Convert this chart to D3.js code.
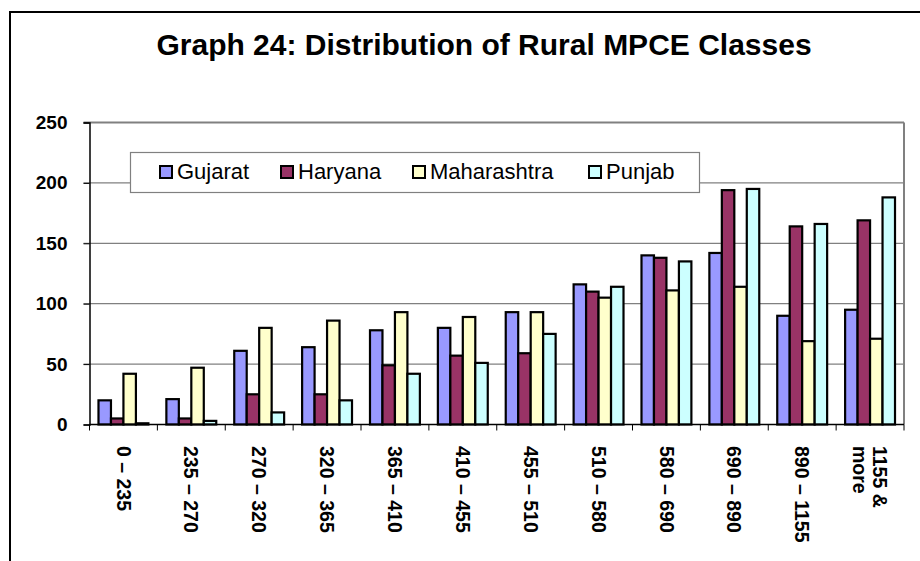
<!DOCTYPE html>
<html>
<head>
<meta charset="utf-8">
<script src="https://cdn.jsdelivr.net/npm/d3@7"></script>
<style>
  body { margin: 0; background: #fff; }
  svg { display: block; font-family: Arial, "Liberation Sans", sans-serif; }
</style>
</head>
<body>
<div id="chart"></div>
<script>
// du lieu doc tu bieu do
var classes = ["0 \u2013 235", "235 \u2013 270", "270 \u2013 320", "320 \u2013 365", "365 \u2013 410", "410 \u2013 455",
  "455 \u2013 510", "510 \u2013 580", "580 \u2013 690", "690 \u2013 890", "890 \u2013 1155", "1155 & more"];
var states = ["Gujarat", "Haryana", "Maharashtra", "Punjab"];
var gujarat = [20, 21, 61, 64, 78, 80, 93, 116, 140, 142, 90, 95];
var haryana = [5, 5, 25, 25, 49, 57, 59, 110, 138, 194, 164, 169];
var maharashtra = [42, 47, 80, 86, 93, 89, 93, 105, 111, 114, 69, 71];
var punjab = [1, 3, 10, 20, 42, 51, 75, 114, 135, 195, 166, 188];
var yTicks = [0, 50, 100, 150, 200, 250];

var seriesValues = [gujarat, haryana, maharashtra, punjab];
var colors = ["#9999FF", "#993366", "#FFFFCC", "#CCFFFF"];

function drawChart(width, height) {
    var left = 89.5, right = 904, top = 122.5, bottom = 424.5;

    var svg = d3.select("#chart")
        .append("svg")
        .attr("width", width)
        .attr("height", height);

    // khung ngoai
    svg.append("rect")
        .attr("x", 10)
        .attr("y", 12)
        .attr("width", width)
        .attr("height", height)
        .attr("fill", "none")
        .attr("stroke", "#000")
        .attr("stroke-width", 2);

    // tieu de
    svg.append("text")
        .attr("x", 484)
        .attr("y", 55)
        .attr("text-anchor", "middle")
        .style("font-size", "30px")
        .style("font-weight", "bold")
        .text("Graph 24: Distribution of Rural MPCE Classes");

    var x0 = d3.scaleBand()
        .domain(classes)
        .range([left, right])
        .paddingInner(0.265)
        .paddingOuter(0.1325);

    var x1 = d3.scaleBand()
        .domain(states)
        .range([0, x0.bandwidth()]);

    var y = d3.scaleLinear()
        .domain([0, 250])
        .range([bottom, top]);

    // luoi ngang
    svg.append("g")
        .selectAll("line")
        .data(yTicks.slice(1))
        .enter()
        .append("line")
        .attr("x1", left - 6)
        .attr("x2", right)
        .attr("y1", d => y(d))
        .attr("y2", d => y(d))
        .attr("stroke", "#808080")
        .attr("stroke-width", d => d === 250 ? 2 : 1.2);

    // vien phai
    svg.append("line")
        .attr("x1", right).attr("x2", right)
        .attr("y1", top).attr("y2", bottom)
        .attr("stroke", "#808080")
        .attr("stroke-width", 2);

    // truc y
    var yAxis = svg.append("g")
        .attr("transform", "translate(" + left + ",0)")
        .call(d3.axisLeft(y).tickValues(yTicks).tickSize(6).tickPadding(16));
    yAxis.select(".domain").attr("stroke", "#000").attr("stroke-width", 1.5);
    yAxis.selectAll(".tick line").attr("stroke", "#000");
    yAxis.selectAll("text")
        .attr("fill", "#000")
        .style("font-size", "19px")
        .style("font-weight", "bold")
        .style("font-family", "Arial, 'Liberation Sans', sans-serif");

    // cot
    var groups = svg.append("g")
        .selectAll("g")
        .data(classes)
        .enter()
        .append("g")
        .attr("transform", d => "translate(" + x0(d) + ",0)");

    groups.selectAll("rect")
        .data((d, i) => states.map((s, j) => ({ state: s, value: seriesValues[j][i], idx: j })))
        .enter()
        .append("rect")
        .attr("x", d => x1(d.state))
        .attr("y", d => y(d.value))
        .attr("width", x1.bandwidth())
        .attr("height", d => y(0) - y(d.value))
        .attr("fill", d => colors[d.idx])
        .attr("stroke", "#000")
        .attr("stroke-width", 2.2);

    // truc x
    var boundaries = d3.range(classes.length + 1).map(i => left + i * x0.step());
    svg.append("line")
        .attr("x1", left).attr("x2", right)
        .attr("y1", bottom).attr("y2", bottom)
        .attr("stroke", "#000")
        .attr("stroke-width", 1.5);
    svg.append("g")
        .selectAll("line")
        .data(boundaries)
        .enter()
        .append("line")
        .attr("x1", d => d).attr("x2", d => d)
        .attr("y1", bottom).attr("y2", bottom + 6)
        .attr("stroke", "#000");

    // nhan truc x (xoay doc)
    var labels = svg.append("g")
        .selectAll("text")
        .data(classes)
        .enter()
        .append("text")
        .attr("transform", d => "translate(" + (x0(d) + x0.bandwidth() / 2) + "," + 446 + ") rotate(90)")
        .style("font-size", "19.5px")
        .style("font-weight", "bold");

    labels.each(function (d) {
        var t = d3.select(this);
        if (d === "1155 & more") {
            t.append("tspan").attr("x", 0).attr("dy", "-0.15em").text("1155 &");
            t.append("tspan").attr("x", 0).attr("dy", "1em").text("more");
        } else {
            t.append("tspan").attr("x", 0).attr("dy", "0.35em").text(d);
        }
    });

    // chu giai
    var legendBox = svg.append("g");
    legendBox.append("rect")
        .attr("x", 130.5)
        .attr("y", 152.5)
        .attr("width", 569)
        .attr("height", 40)
        .attr("fill", "#fff")
        .attr("stroke", "#808080")
        .attr("stroke-width", 1.2);

    var legendX = [160, 281, 413, 589];
    var legend = legendBox.selectAll(".legend")
        .data(states)
        .enter()
        .append("g")
        .attr("class", "legend")
        .attr("transform", (d, i) => "translate(" + legendX[i] + ",166)");

    legend.append("rect")
        .attr("width", 12)
        .attr("height", 12)
        .attr("fill", (d, i) => colors[i])
        .attr("stroke", "#000")
        .attr("stroke-width", 2);

    legend.append("text")
        .attr("x", 17)
        .attr("y", 13)
        .style("font-size", "22px")
        .text(d => d);
}

drawChart(920, 561);
</script>
</body>
</html>
